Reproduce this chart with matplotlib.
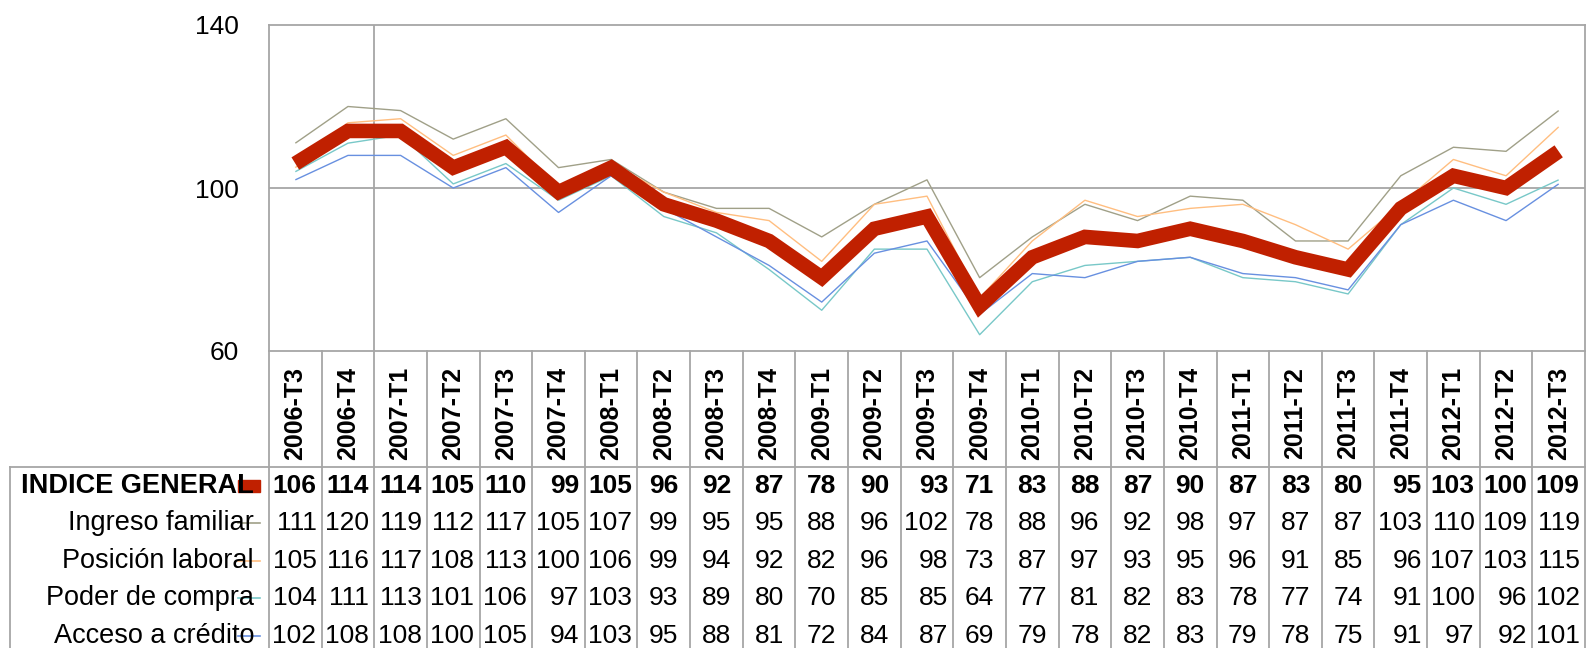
import matplotlib
matplotlib.use("Agg")
import matplotlib.pyplot as plt
from matplotlib.transforms import blended_transform_factory
from matplotlib.lines import Line2D
from matplotlib.patches import Rectangle

plt.rcParams['font.family'] = ['Liberation Sans', 'DejaVu Sans']

categories = ["2006-T3", "2006-T4", "2007-T1", "2007-T2", "2007-T3", "2007-T4",
              "2008-T1", "2008-T2", "2008-T3", "2008-T4", "2009-T1", "2009-T2",
              "2009-T3", "2009-T4", "2010-T1", "2010-T2", "2010-T3", "2010-T4",
              "2011-T1", "2011-T2", "2011-T3", "2011-T4", "2012-T1", "2012-T2",
              "2012-T3"]
indice_general = [106, 114, 114, 105, 110, 99, 105, 96, 92, 87, 78, 90, 93, 71,
                  83, 88, 87, 90, 87, 83, 80, 95, 103, 100, 109]
ingreso_familiar = [111, 120, 119, 112, 117, 105, 107, 99, 95, 95, 88, 96, 102, 78,
                    88, 96, 92, 98, 97, 87, 87, 103, 110, 109, 119]
posicion_laboral = [105, 116, 117, 108, 113, 100, 106, 99, 94, 92, 82, 96, 98, 73,
                    87, 97, 93, 95, 96, 91, 85, 96, 107, 103, 115]
poder_compra = [104, 111, 113, 101, 106, 97, 103, 93, 89, 80, 70, 85, 85, 64,
                77, 81, 82, 83, 78, 77, 74, 91, 100, 96, 102]
acceso_credito = [102, 108, 108, 100, 105, 94, 103, 95, 88, 81, 72, 84, 87, 69,
                  79, 78, 82, 83, 79, 78, 75, 91, 97, 92, 101]
series_names = ["INDICE GENERAL", "Ingreso familiar", "Posición laboral",
                "Poder de compra", "Acceso a crédito"]
y_ticks = [60, 100, 140]

series = [indice_general, ingreso_familiar, posicion_laboral, poder_compra, acceso_credito]
colors = ["#C02000", "#A0A088", "#FFBE80", "#78C8C8", "#6890E0"]
widths = [10.5, 1.0, 1.0, 1.0, 1.0]

W, H = 1586, 648
fig = plt.figure(figsize=(W / 100, H / 100), dpi=100)

def fx(px):
    return px / W

def fy(py):
    return 1 - py / H

left_px, right_px, top_px, bottom_px = 269, 1585, 25, 351
ax = fig.add_axes([fx(left_px), fy(bottom_px), fx(right_px - left_px), (bottom_px - top_px) / H])
n = len(categories)
ax.set_xlim(-0.5, n - 0.5)
ax.set_ylim(60, 140)

grid_c = "#A6A6A6"
for s in ax.spines.values():
    s.set_color(grid_c)
    s.set_linewidth(1.3)
ax.set_xticks([])
ax.set_yticks(y_ticks)
ax.tick_params(axis='y', length=0, pad=22, labelsize=19)
ax.axhline(100, color=grid_c, lw=1.3, zorder=1)
ax.axvline(1.5, color=grid_c, lw=1.3, zorder=1)

xs = list(range(n))
for i in [1, 2, 3, 4, 0]:
    ax.plot(xs, series[i], color=colors[i], lw=widths[i], zorder=3 if i else 4,
            solid_joinstyle='miter' if i == 0 else 'round', solid_capstyle='butt')

tr = blended_transform_factory(ax.transData, fig.transFigure)
cat_top, table_top = 351, 467
row_h = 37.5
for i in range(n + 1):
    fig.add_artist(Line2D([i - 0.5, i - 0.5], [fy(cat_top), fy(H)], transform=tr,
                          color=grid_c, lw=1.3))
fig.add_artist(Line2D([fx(9.5), fx(right_px)], [fy(table_top), fy(table_top)],
                      transform=fig.transFigure, color=grid_c, lw=1.3))
fig.add_artist(Line2D([fx(9.5), fx(9.5)], [fy(table_top), fy(H)],
                      transform=fig.transFigure, color=grid_c, lw=1.3))

for i, c in enumerate(categories):
    fig.text(i, fy(413), c, transform=tr, rotation=90, ha='center', va='center',
             fontsize=18, fontweight='bold')

for r, (name, vals) in enumerate(zip(series_names, series)):
    yc = table_top + row_h * (r + 0.5)
    bold = 'bold' if r == 0 else 'normal'
    fig.text(fx(254), fy(yc), name, ha='right', va='center', fontsize=19.5,
             fontweight=bold)
    if r == 0:
        fig.add_artist(Rectangle((fx(238), fy(yc + 6)), fx(22), 12 / H,
                                 transform=fig.transFigure, color=colors[0]))
    else:
        fig.add_artist(Line2D([fx(238), fx(260)], [fy(yc), fy(yc)],
                              transform=fig.transFigure, color=colors[r], lw=1.2))
    for i, v in enumerate(vals):
        col_vals = [s_[i] for s_ in series]
        if max(len(str(cv)) for cv in col_vals) >= 3:
            fig.text(i + 0.40, fy(yc), str(v), transform=tr, ha='right', va='center',
                     fontsize=19, fontweight=bold)
        else:
            fig.text(i, fy(yc), str(v), transform=tr, ha='center', va='center',
                     fontsize=19, fontweight=bold)

fig.savefig("out.png", dpi=100)
